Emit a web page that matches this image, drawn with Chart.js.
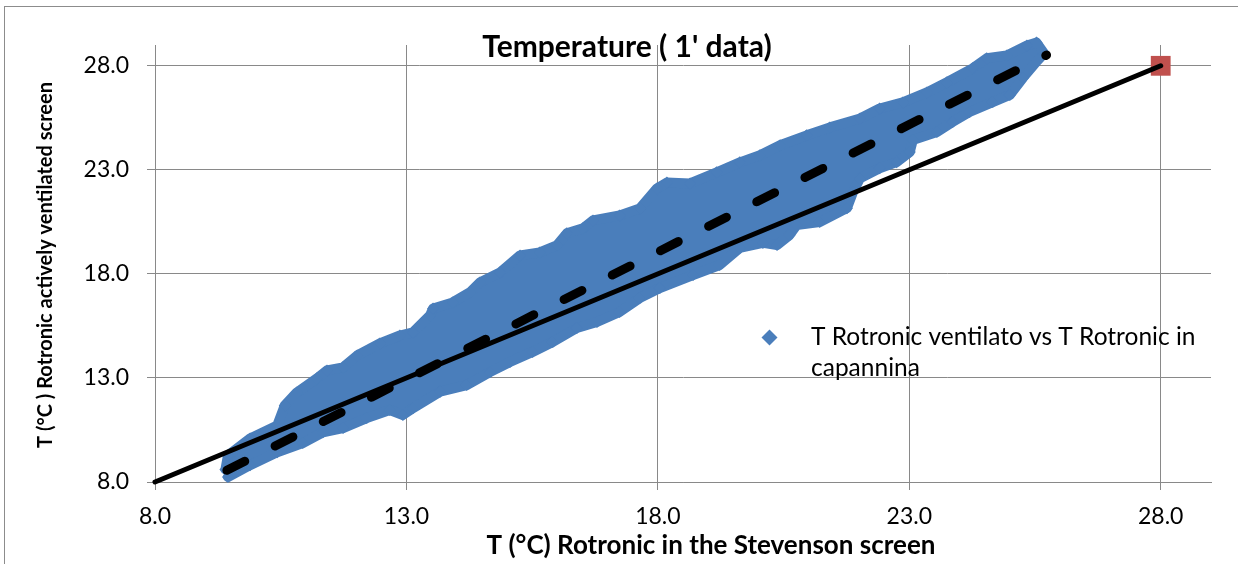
<!DOCTYPE html>
<html>
<head>
<meta charset="utf-8">
<title>Temperature ( 1' data)</title>
<script src="https://cdn.jsdelivr.net/npm/chart.js@4.4.1/dist/chart.umd.min.js"></script>
<style>
  html, body { margin:0; padding:0; background:#fff; }
  #wrap { position:relative; width:1247px; height:564px; overflow:hidden; }
  #frame { position:absolute; left:4px; top:6px; width:1233px; height:600px;
           border-left:1px solid #8c8c8c; border-top:1px solid #8c8c8c; }
  #wrap canvas { position:absolute; left:0; top:0; }
</style>
</head>
<body>
<div id="wrap">
  <div id="frame"></div>
  <canvas id="tempChart" width="1247" height="564"></canvas>
</div>
<script>
/* ==========================================
   DATA
========================================== */

const chartTitle = "Temperature ( 1' data)";
const xTitle = "T (°C) Rotronic in the Stevenson screen";
const yTitle = "T (°C ) Rotronic actively ventilated screen";
const seriesName = ["T Rotronic ventilato vs T Rotronic in", "capannina"];

const xTicks = [8, 13, 18, 23, 28];
const yTicks = [8, 13, 18, 23, 28];

// outer points of the 1' cloud, top side, left -> right  [x, y]
const cloudUpper = [
  [9.40, 8.60], [9.45, 9.27], [9.89, 10.09], [10.43, 10.72], [10.58, 11.68],
  [10.82, 12.30], [11.22, 12.98], [11.42, 13.36], [11.74, 13.51], [12.02, 14.08],
  [12.47, 14.66], [12.87, 15.04], [13.13, 15.19], [13.47, 16.01], [13.53, 16.34],
  [13.92, 16.63], [14.26, 17.11], [14.46, 17.59], [14.86, 18.07], [15.26, 18.89],
  [15.65, 19.03], [15.99, 19.37], [16.19, 19.95], [16.51, 20.19], [16.71, 20.57],
  [17.24, 20.81], [17.64, 21.14], [17.98, 22.10], [18.18, 22.39], [18.64, 22.35],
  [19.17, 22.88], [19.63, 23.36], [20.03, 23.70], [20.43, 24.18], [20.96, 24.66],
  [21.42, 25.04], [22.02, 25.47], [22.41, 25.95], [22.87, 26.24], [23.35, 26.72],
  [23.75, 27.21], [24.26, 27.88], [24.54, 28.36], [24.94, 28.50], [25.34, 28.98],
  [25.53, 29.12], [25.68, 28.60]
];

// outer points of the cloud, bottom side, left -> right  [x, y]
const cloudLower = [
  [9.45, 8.24], [9.89, 8.81], [10.43, 9.43], [10.94, 9.87], [11.34, 10.39],
  [11.74, 10.59], [12.21, 11.07], [12.67, 11.46], [12.93, 11.22], [13.13, 11.55],
  [13.67, 12.34], [14.20, 12.66], [14.66, 13.28], [15.06, 13.77], [15.51, 14.25],
  [15.91, 14.73], [16.39, 15.40], [16.79, 15.69], [17.24, 16.17], [17.64, 16.84],
  [18.04, 17.32], [18.70, 17.95], [19.23, 18.43], [19.63, 19.25], [20.09, 19.49],
  [20.37, 19.39], [20.62, 19.87], [20.76, 20.35], [21.22, 20.49], [21.76, 21.16],
  [21.88, 21.93], [22.02, 22.60], [22.41, 23.08], [22.75, 23.37], [23.01, 23.86],
  [23.07, 24.43], [23.55, 24.82], [23.86, 25.30], [24.20, 25.78], [24.66, 26.26],
  [25.00, 26.60], [25.26, 27.42], [25.55, 28.25]
];

// linear fit of the cloud (dashed)
const trendX = [9.43, 25.73];
const trendY = [8.56, 28.52];

// 1:1 line and its end marker
const refX = [8, 28];
const refY = [8, 28];
const endPoint = [28, 28];

/* ==========================================
   CHART
========================================== */

const blue = "#4a7ebb";
const gridColor = "#898989";

const toXY = arr => arr.map(p => ({ x: p[0], y: p[1] }));
const zipXY = (xs, ys) => xs.map((x, i) => ({ x, y: ys[i] }));

const cloudPoints = toXY(cloudUpper.concat(cloudLower));
const cloudShape = toXY(cloudUpper.concat(cloudLower.slice().reverse()));

const textPlugin = {

    id: "texts",

    afterDraw(chart){

        const ctx = chart.ctx;

        ctx.save();

        ctx.fillStyle = "#000";
        ctx.textAlign = "center";
        ctx.textBaseline = "alphabetic";

        // title
        ctx.font = "bold 30px Lato";
        ctx.fillText(chartTitle, 627, 57);

        // x axis title
        ctx.font = "bold 26px Lato";
        ctx.fillText(xTitle, 711, 554);

        // y axis title
        ctx.save();
        ctx.translate(52, 265);
        ctx.rotate(-Math.PI / 2);
        ctx.font = "bold 20px Lato";
        ctx.fillText(yTitle, 0, 0);
        ctx.restore();

        // legend
        ctx.fillStyle = blue;
        ctx.beginPath();
        ctx.moveTo(769.5, 329.5);
        ctx.lineTo(777.5, 337.5);
        ctx.lineTo(769.5, 345.5);
        ctx.lineTo(761.5, 337.5);
        ctx.closePath();
        ctx.fill();

        ctx.fillStyle = "#000";
        ctx.textAlign = "left";
        ctx.font = "24.5px Lato";
        ctx.fillText(seriesName[0], 811, 345);
        ctx.fillText(seriesName[1], 811, 376);

        ctx.restore();

    }

};

const fixTicks = vals => scale => {
    scale.ticks = vals.map(v => ({ value: v }));
};

new Chart(document.getElementById("tempChart"), {

    type: "scatter",

    data: {

        datasets: [

            {
                label: "cloud",
                data: cloudShape,
                showLine: true,
                fill: "shape",
                backgroundColor: blue,
                borderColor: blue,
                borderWidth: 10,
                borderJoinStyle: "round",
                borderCapStyle: "round",
                pointRadius: 0,
                tension: 0,
                clip: false,
                order: 5
            },

            {
                label: seriesName.join(" "),
                data: cloudPoints,
                pointStyle: "rectRot",
                pointRadius: 6,
                backgroundColor: blue,
                borderColor: blue,
                borderWidth: 0,
                clip: false,
                order: 4
            },

            {
                label: "end",
                data: [{ x: endPoint[0], y: endPoint[1] }],
                pointStyle: "rect",
                pointRadius: 14,
                backgroundColor: "#c0504d",
                borderColor: "#c0504d",
                borderWidth: 0,
                clip: false,
                order: 3
            },

            {
                label: "1:1",
                data: zipXY(refX, refY),
                showLine: true,
                borderColor: "#000",
                borderWidth: 5,
                borderCapStyle: "round",
                pointRadius: 0,
                clip: false,
                order: 2
            },

            {
                label: "fit",
                data: zipXY(trendX, trendY),
                showLine: true,
                borderColor: "#000",
                borderWidth: 9,
                borderDash: [20, 34],
                borderCapStyle: "round",
                pointRadius: 0,
                clip: false,
                order: 1
            }

        ]

    },

    options: {

        responsive: false,
        devicePixelRatio: 1,
        animation: false,
        events: [],

        layout: {
            padding: { left: 0, top: 45, right: 36, bottom: 0 }
        },

        plugins: {
            legend: { display: false },
            tooltip: { enabled: false }
        },

        scales: {

            x: {
                type: "linear",
                min: 8,
                max: 29,
                afterBuildTicks: fixTicks(xTicks),
                afterFit(scale){ scale.height = 82; },
                ticks: {
                    color: "#000",
                    font: { family: "Lato", size: 23 },
                    padding: 13,
                    maxRotation: 0,
                    autoSkip: false,
                    callback: v => v.toFixed(1)
                },
                grid: {
                    color: gridColor,
                    tickLength: 8,
                    tickColor: gridColor
                },
                border: { color: gridColor }
            },

            y: {
                type: "linear",
                min: 8,
                max: 29,
                afterBuildTicks: fixTicks(yTicks),
                afterFit(scale){ scale.width = 155; },
                ticks: {
                    color: "#000",
                    font: { family: "Lato", size: 23 },
                    padding: 18,
                    autoSkip: false,
                    callback: v => v.toFixed(1)
                },
                grid: {
                    color: gridColor,
                    tickLength: 8,
                    tickColor: gridColor
                },
                border: { color: gridColor }
            }

        }

    },

    plugins: [textPlugin]

});
</script>
</body>
</html>
